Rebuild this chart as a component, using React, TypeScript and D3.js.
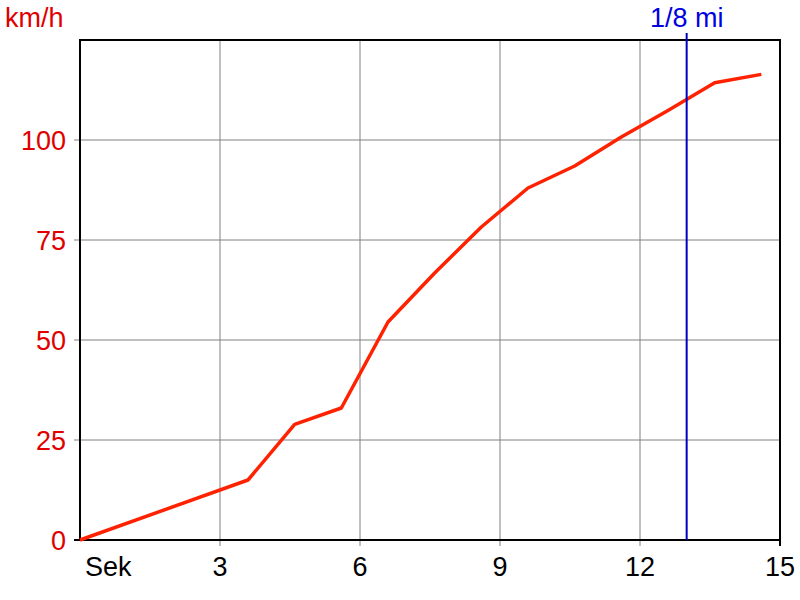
import React from "react";
import * as d3 from "d3";

const times = [0, 3.6, 4.6, 5.6, 6.6, 7.6, 8.6, 9.6, 10.6, 11.6, 12.6, 13.6, 14.6];
const speeds = [0, 15, 28.9, 33, 54.5, 66.75, 78.25, 88, 93.5, 100.75, 107.4, 114.3, 116.4];
const xTicks = [3, 6, 9, 12, 15];
const yTicks = [0, 25, 50, 75, 100];
const markerTime = 13;
const markerLabel = "1/8 mi";
const yUnit = "km/h";
const xUnit = "Sek";

export default function App() {
  const W = 800, H = 600;
  const left = 80, right = 780, top = 40, bottom = 540;
  const x = d3.scaleLinear().domain([0, 15]).range([left, right]);
  const y = d3.scaleLinear().domain([0, 125]).range([bottom, top]);
  const data = times.map((t, i) => [t, speeds[i]] as [number, number]);
  const line = d3.line<[number, number]>().x(d => x(d[0])).y(d => y(d[1]));
  const font = "'Liberation Sans', Arial, sans-serif";
  const fs = 27;
  return (
    <svg width={W} height={H} style={{ position: "absolute", left: 0, top: 0, background: "#fff" }} fontFamily={font}>
      <rect x={0} y={0} width={W} height={H} fill="#fff" />
      {xTicks.filter(t => t < 15).map(t => (
        <line key={"gx" + t} x1={x(t)} x2={x(t)} y1={top} y2={bottom + 6} stroke="#808080" strokeWidth={1} />
      ))}
      {yTicks.filter(t => t > 0).map(t => (
        <line key={"gy" + t} x1={left - 6} x2={right} y1={y(t)} y2={y(t)} stroke="#808080" strokeWidth={1} />
      ))}
      <line x1={left - 6} x2={left} y1={y(0)} y2={y(0)} stroke="#000" strokeWidth={2} />
      <line x1={right} x2={right} y1={bottom} y2={bottom + 6} stroke="#000" strokeWidth={2} />
      <rect x={left} y={top} width={right - left} height={bottom - top} fill="none" stroke="#000" strokeWidth={2} />
      <path d={line(data) || ""} fill="none" stroke="#ff2200" strokeWidth={3.5} strokeLinejoin="round" />
      <line x1={x(markerTime)} x2={x(markerTime)} y1={33} y2={bottom} stroke="#0000c0" strokeWidth={2} />
      <text x={x(markerTime)} y={27} textAnchor="middle" fontSize={fs} fill="#0000e0">{markerLabel}</text>
      {yTicks.map(t => (
        <text key={"ly" + t} x={66} y={y(t)} dy="0.36em" textAnchor="end" fontSize={fs} fill="#e00000">{t}</text>
      ))}
      <text x={5} y={27} fontSize={fs} fill="#e00000">{yUnit}</text>
      {xTicks.map(t => (
        <text key={"lx" + t} x={x(t)} y={576} textAnchor="middle" fontSize={fs} fill="#000">{t}</text>
      ))}
      <text x={85} y={576} fontSize={fs} fill="#000">{xUnit}</text>
    </svg>
  );
}
